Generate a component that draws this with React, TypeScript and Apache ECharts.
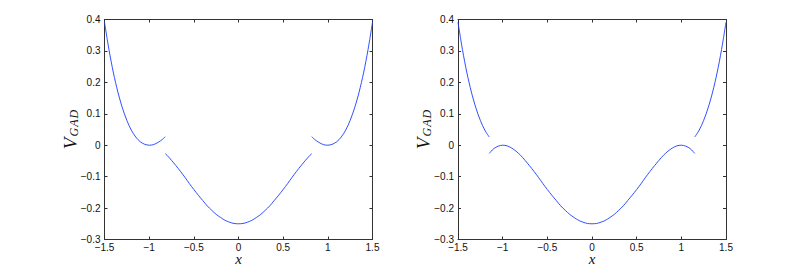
import React, { useEffect, useRef } from "react";
import * as echarts from "echarts";

// Left panel segments: [x, V_GAD]
const leftOuterA: number[][] = [
  [-1.5, 0.391], [-1.45, 0.304], [-1.4, 0.23], [-1.35, 0.169], [-1.3, 0.119],
  [-1.25, 0.079], [-1.2, 0.048], [-1.15, 0.026], [-1.1, 0.011], [-1.05, 0.003],
  [-1.0, 0.0], [-0.95, 0.002], [-0.9, 0.009], [-0.85, 0.019], [-0.82, 0.027],
];
const leftInner: number[][] = [
  [-0.82, -0.027], [-0.8, -0.032], [-0.75, -0.048], [-0.7, -0.065], [-0.65, -0.083],
  [-0.6, -0.102], [-0.55, -0.122], [-0.5, -0.141], [-0.45, -0.159], [-0.4, -0.176],
  [-0.35, -0.193], [-0.3, -0.207], [-0.25, -0.22], [-0.2, -0.23], [-0.15, -0.239],
  [-0.1, -0.245], [-0.05, -0.249], [0, -0.25], [0.05, -0.249], [0.1, -0.245],
  [0.15, -0.239], [0.2, -0.23], [0.25, -0.22], [0.3, -0.207], [0.35, -0.193],
  [0.4, -0.176], [0.45, -0.159], [0.5, -0.141], [0.55, -0.122], [0.6, -0.102],
  [0.65, -0.083], [0.7, -0.065], [0.75, -0.048], [0.8, -0.032], [0.82, -0.027],
];
const leftOuterB: number[][] = [
  [0.82, 0.027], [0.85, 0.019], [0.9, 0.009], [0.95, 0.002], [1.0, 0.0],
  [1.05, 0.003], [1.1, 0.011], [1.15, 0.026], [1.2, 0.048], [1.25, 0.079],
  [1.3, 0.119], [1.35, 0.169], [1.4, 0.23], [1.45, 0.304], [1.5, 0.391],
];

// Right panel segments
const rightOuterA: number[][] = [
  [-1.5, 0.391], [-1.45, 0.304], [-1.4, 0.23], [-1.35, 0.169], [-1.3, 0.119],
  [-1.25, 0.079], [-1.2, 0.048], [-1.15, 0.026],
];
const rightInner: number[][] = [
  [-1.15, -0.026], [-1.1, -0.011], [-1.05, -0.003], [-1.0, 0.0], [-0.95, -0.002],
  [-0.9, -0.009], [-0.85, -0.019], [-0.8, -0.032], [-0.75, -0.048], [-0.7, -0.065],
  [-0.65, -0.083], [-0.6, -0.102], [-0.55, -0.122], [-0.5, -0.141], [-0.45, -0.159],
  [-0.4, -0.176], [-0.35, -0.193], [-0.3, -0.207], [-0.25, -0.22], [-0.2, -0.23],
  [-0.15, -0.239], [-0.1, -0.245], [-0.05, -0.249], [0, -0.25], [0.05, -0.249],
  [0.1, -0.245], [0.15, -0.239], [0.2, -0.23], [0.25, -0.22], [0.3, -0.207],
  [0.35, -0.193], [0.4, -0.176], [0.45, -0.159], [0.5, -0.141], [0.55, -0.122],
  [0.6, -0.102], [0.65, -0.083], [0.7, -0.065], [0.75, -0.048], [0.8, -0.032],
  [0.85, -0.019], [0.9, -0.009], [0.95, -0.002], [1.0, 0.0], [1.05, -0.003],
  [1.1, -0.011], [1.15, -0.026],
];
const rightOuterB: number[][] = [
  [1.15, 0.026], [1.2, 0.048], [1.25, 0.079], [1.3, 0.119], [1.35, 0.169],
  [1.4, 0.23], [1.45, 0.304], [1.5, 0.391],
];

const xTitle = "x";
const yTitleMain = "V";
const yTitleSub = "G\u200AA\u200AD";

const fmt = (v: number) => {
  const s = String(Number(v.toFixed(2)));
  return s.replace("-", "\u2212");
};

const AXIS_COLOR = "#333";
const TEXT_COLOR = "#111";
const LINE_COLOR = "#1a3cff";

function makeAxes(gridIndex: number) {
  const lineStyle = { color: AXIS_COLOR, width: 1 };
  const tick = { show: true, inside: true, length: 3, lineStyle };
  const xMain = {
    type: "value", gridIndex, min: -1.5, max: 1.5, interval: 0.5, position: "bottom",
    axisLine: { show: true, onZero: false, lineStyle },
    axisTick: tick,
    splitLine: { show: false },
    axisLabel: { color: TEXT_COLOR, fontSize: 10, lineHeight: 10, fontFamily: "Liberation Sans", margin: 3, formatter: fmt },
    name: xTitle, nameLocation: "middle", nameGap: 16, nameMoveOverlap: false,
    nameTextStyle: { fontFamily: "Liberation Serif", fontStyle: "italic", fontSize: 15, lineHeight: 6, color: TEXT_COLOR },
  };
  const xTop = {
    type: "value", gridIndex, min: -1.5, max: 1.5, interval: 0.5, position: "top",
    axisLine: { show: true, onZero: false, lineStyle },
    axisTick: tick, axisLabel: { show: false }, splitLine: { show: false },
  };
  const yMain = {
    type: "value", gridIndex, min: -0.3, max: 0.4, interval: 0.1, position: "left",
    axisLine: { show: true, onZero: false, lineStyle },
    axisTick: tick,
    splitLine: { show: false },
    axisLabel: { color: TEXT_COLOR, fontSize: 10, fontFamily: "Liberation Sans", margin: 4, formatter: fmt },
    name: `{v|${yTitleMain}}{s|${yTitleSub}}`, nameLocation: "middle", nameGap: 25, nameRotate: 90,
    nameMoveOverlap: false,
    nameTextStyle: {
      color: TEXT_COLOR,
      rich: {
        v: { fontFamily: "Liberation Serif", fontStyle: "italic", fontSize: 19, color: TEXT_COLOR, lineHeight: 20, verticalAlign: "bottom" },
        s: { fontFamily: "Liberation Serif", fontStyle: "italic", fontSize: 12, color: TEXT_COLOR, lineHeight: 20, verticalAlign: "bottom", padding: [6, 0, 0, 1] },
      },
    },
  };
  const yRight = {
    type: "value", gridIndex, min: -0.3, max: 0.4, interval: 0.1, position: "right",
    axisLine: { show: true, onZero: false, lineStyle },
    axisTick: tick, axisLabel: { show: false }, splitLine: { show: false },
  };
  return { x: [xMain, xTop], y: [yMain, yRight] };
}

export default function App() {
  const ref = useRef<HTMLDivElement>(null);
  useEffect(() => {
    if (!ref.current) return;
    const chart = echarts.init(ref.current, null, { renderer: "svg" });
    const a0 = makeAxes(0);
    const a1 = makeAxes(1);
    const seg = (data: number[][], xi: number, yi: number) => ({
      type: "line", data, xAxisIndex: xi, yAxisIndex: yi, showSymbol: false, symbol: "none",
      smooth: 0.3, lineStyle: { color: LINE_COLOR, width: 0.9 }, silent: true,
    });
    chart.setOption({
      animation: false,
      backgroundColor: "#fff",
      grid: [
        { left: 104.5, top: 19.5, width: 268, height: 220 },
        { left: 458, top: 19.5, width: 268, height: 220 },
      ],
      xAxis: [...a0.x, ...a1.x],
      yAxis: [...a0.y, ...a1.y],
      series: [
        seg(leftOuterA, 0, 0), seg(leftInner, 0, 0), seg(leftOuterB, 0, 0),
        seg(rightOuterA, 2, 2), seg(rightInner, 2, 2), seg(rightOuterB, 2, 2),
      ],
    });
    return () => chart.dispose();
  }, []);
  return <div ref={ref} style={{ position: "fixed", left: 0, top: 0, width: 802, height: 272 }} />;
}
